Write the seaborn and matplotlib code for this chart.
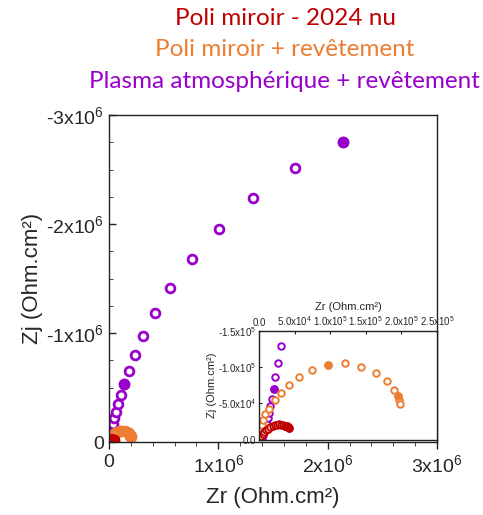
import numpy as np
import pandas as pd
import seaborn as sns
import matplotlib.pyplot as plt
from matplotlib.ticker import FuncFormatter, MultipleLocator, AutoMinorLocator

# Nyquist data, Zr and Zj in Ohm.cm2
plasma_zr = [1.5e3, 3.8e3, 6.0e3, 8.4e3, 11.7e3, 12.6e3, 13.6e3, 15.4e3, 17.8e3, 21.1e3, 22.9e3, 26.7e3,
             30.9e3, 37e3, 49e3, 64e3, 85e3, 110e3, 140e3, 183e3, 235e3, 308e3, 424e3, 558e3, 757e3,
             1004e3, 1317e3, 1700e3, 2140e3]
plasma_zj = [-0.3e3, -1e3, -5.6e3, -12.5e3, -21.8e3, -29.6e3, -37.1e3, -46.3e3, -56.5e3, -69.9e3, -86.1e3, -106e3,
             -129.6e3, -162e3, -217e3, -278e3, -349e3, -431e3, -529e3, -651e3, -798e3, -976e3, -1181e3, -1416e3,
             -1679e3, -1954e3, -2241e3, -2517e3, -2755e3]
plasma_filled = [9, 18, 28]

orange_zr = [1.5e3, 2.5e3, 3.8e3, 4.2e3, 6.0e3, 8.4e3, 13.6e3, 22.9e3, 30.9e3, 41.7e3, 56.6e3, 74.4e3,
             96.4e3, 120.3e3, 143.7e3, 164.3e3, 179.3e3, 190.1e3, 194.8e3, 197.1e3, 198.0e3]
orange_zj = [-1e3, -5e3, -12.5e3, -19.4e3, -26.4e3, -34.7e3, -42.6e3, -55.1e3, -64.8e3, -75.9e3, -86.5e3, -95.8e3,
             -102.4e3, -105.1e3, -100.4e3, -92.1e3, -80.6e3, -69.0e3, -59.7e3, -54.2e3, -49.6e3]
orange_filled = [12, 18]

red_zr = [1e3, 2e3, 3.5e3, 5e3, 7e3, 10e3, 13e3, 15.4e3, 19e3, 22.5e3, 25.5e3, 28.5e3, 31.5e3, 34.1e3,
          36.5e3, 38.9e3, 41e3, 42.6e3]
red_zj = [-0.5e3, -2.5e3, -5e3, -7.5e3, -10e3, -12.5e3, -15e3, -17.1e3, -18.5e3, -19.4e3, -20.2e3, -20.8e3,
          -20.4e3, -19.4e3, -18.8e3, -18.1e3, -17e3, -15.7e3]
red_filled = [14, 15, 16, 17]

series = [
    ("Plasma atmosphérique + revêtement", "#9900cc", plasma_zr, plasma_zj, plasma_filled),
    ("Poli miroir + revêtement", "#ed7d31", orange_zr, orange_zj, orange_filled),
    ("Poli miroir - 2024 nu", "#c00000", red_zr, red_zj, red_filled),
]

sns.set_style("ticks")
plt.rcParams['font.family'] = ['Liberation Sans', 'DejaVu Sans']
plt.rcParams['mathtext.fontset'] = 'custom'
plt.rcParams['mathtext.rm'] = 'Liberation Sans'
plt.rcParams['mathtext.it'] = 'Liberation Sans'
plt.rcParams['axes.unicode_minus'] = False


def main_fmt(v, pos):
    if v == 0:
        return "0"
    return "%dx10$^{6}$" % round(v / 1e6)


def inset_fmt(v, pos):
    if abs(v) < 1:
        return "0.0"
    e = int(np.floor(np.log10(abs(v))))
    return "%.1fx10$^{%d}$" % (v / 10**e, e)


def draw(ax, s, lw):
    for name, col, zr, zj, filled in series:
        df = pd.DataFrame({"Zr": zr, "Zj": zj})
        sns.scatterplot(data=df, x="Zr", y="Zj", ax=ax, marker="o", s=s,
                        facecolor="white", edgecolor=col, linewidth=lw)
        sns.scatterplot(data=df.iloc[filled], x="Zr", y="Zj", ax=ax, marker="o", s=s,
                        color=col, edgecolor=col, linewidth=lw)


fig = plt.figure(figsize=(4.83, 5.15), dpi=100)
ax = fig.add_axes([0.2257, 0.1417, 0.6791, 0.6350])
draw(ax, 40, 2.0)
ax.set_xlim(0, 3e6)
ax.set_ylim(0, -3e6)
ax.xaxis.set_major_locator(MultipleLocator(1e6))
ax.yaxis.set_major_locator(MultipleLocator(1e6))
ax.xaxis.set_minor_locator(AutoMinorLocator(5))
ax.yaxis.set_minor_locator(AutoMinorLocator(4))
ax.xaxis.set_major_formatter(FuncFormatter(main_fmt))
ax.yaxis.set_major_formatter(FuncFormatter(main_fmt))
ax.tick_params(axis="both", labelsize=14, width=1, color="#222222")
ax.tick_params(axis="x", which="major", direction="out", length=5)
ax.tick_params(axis="x", which="minor", direction="out", length=3)
ax.tick_params(axis="y", which="major", direction="in", length=5)
ax.tick_params(axis="y", which="minor", direction="in", length=3)
for sp in ax.spines.values():
    sp.set_color("#222222")
    sp.set_linewidth(1)
ax.set_xlabel("Zr (Ohm.cm²)", fontsize=16, labelpad=8)
ax.set_ylabel("Zj (Ohm.cm²)", fontsize=16, labelpad=2)

# inset zoom
axi = fig.add_axes([0.5362, 0.1466, 0.3686, 0.2107])
draw(axi, 22, 1.4)
axi.set_xlim(0, 2.5e5)
axi.set_ylim(0, -1.5e5)
axi.xaxis.set_major_locator(MultipleLocator(5e4))
axi.yaxis.set_major_locator(MultipleLocator(5e4))
axi.xaxis.set_major_formatter(FuncFormatter(inset_fmt))
axi.yaxis.set_major_formatter(FuncFormatter(inset_fmt))
axi.xaxis.tick_top()
axi.xaxis.set_label_position("top")
axi.tick_params(axis="both", labelsize=7, length=2, direction="in", color="#222222", pad=2)
for sp in axi.spines.values():
    sp.set_color("#222222")
    sp.set_linewidth(1)
axi.set_xlabel("Zr (Ohm.cm²)", fontsize=8, labelpad=3)
axi.set_ylabel("Zj (Ohm.cm²)", fontsize=8, labelpad=1)

title_font = ['Lato', 'DejaVu Sans']
fig.text(0.592, 0.965, "Poli miroir - 2024 nu", color="#c00000", fontsize=17.5,
         ha="center", va="center", family=title_font)
fig.text(0.590, 0.903, "Poli miroir + revêtement", color="#ed7d31", fontsize=17.5,
         ha="center", va="center", family=title_font)
fig.text(0.588, 0.841, "Plasma atmosphérique + revêtement", color="#9900cc", fontsize=17.5,
         ha="center", va="center", family=title_font)

fig.savefig("out.png", dpi=100)
